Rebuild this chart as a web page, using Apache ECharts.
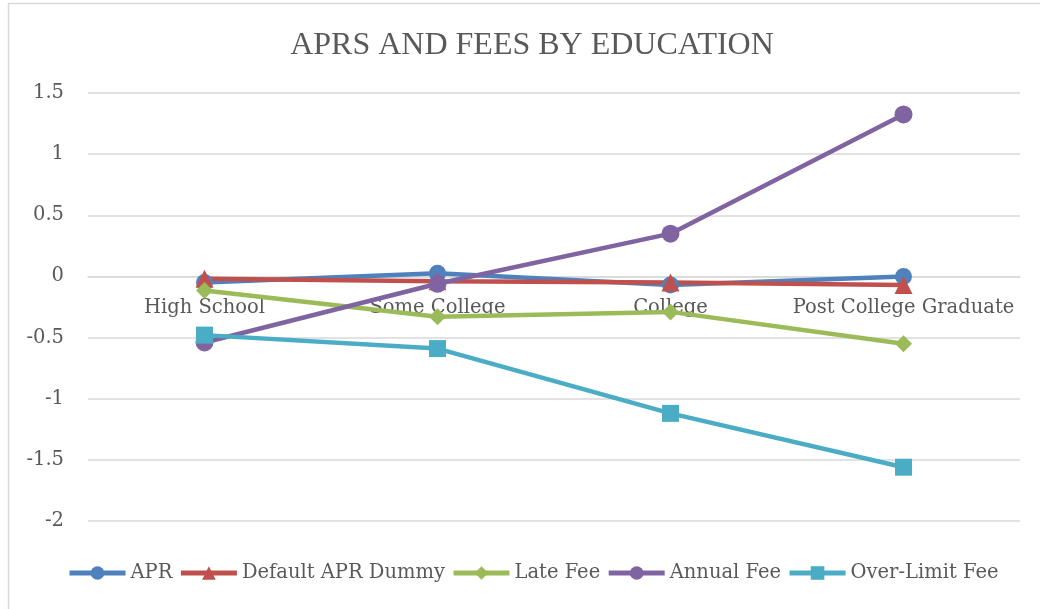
<!DOCTYPE html>
<html>
<head>
<meta charset="utf-8">
<script src="https://cdn.jsdelivr.net/npm/echarts@6/dist/echarts.min.js"></script>
<style>
  html, body { margin: 0; padding: 0; background: #fff; }
  #main { width: 1040px; height: 609px; }
</style>
</head>
<body>
<div id="main"></div>
<script>
// data
var categories = ['High School', 'Some College', 'College', 'Post College Graduate'];
var apr = [-0.05, 0.025, -0.07, 0.0];
var defaultApr = [-0.02, -0.04, -0.05, -0.07];
var lateFee = [-0.115, -0.33, -0.29, -0.55];
var annualFee = [-0.54, -0.06, 0.35, 1.325];
var overLimitFee = [-0.48, -0.59, -1.12, -1.56];
var yTicks = { min: -2, max: 1.5, interval: 0.5 };

var titleFont = '"Liberation Serif", "DejaVu Serif", serif';
var labelFont = '"DejaVu Serif", "Liberation Serif", serif';
var textGray = '#595959';

var gridTop = 93, gridBottom = 88, chartH = 609;
// move the category axis up so it sits on y = 0
var plotH = chartH - gridTop - gridBottom;
var zeroOffset = -plotH * (0 - yTicks.min) / (yTicks.max - yTicks.min);

function line(name, data, color, symbol, size) {
    return {
        name: name,
        type: 'line',
        data: data,
        symbol: symbol,
        symbolSize: size,
        lineStyle: { width: 4.5, color: color },
        itemStyle: { color: color },
        emphasis: { disabled: true }
    };
}

var myChart = echarts.init(document.getElementById('main'));
myChart.setOption({
    animation: false,
    title: {
        text: 'APRS AND FEES BY EDUCATION',
        left: 527,
        top: 25,
        textAlign: 'center',
        textStyle: { fontFamily: titleFont, fontSize: 32, fontWeight: 'normal', color: textGray }
    },
    graphic: [{
        type: 'rect',
        shape: { x: 8.5, y: 3.5, width: 1040, height: 620 },
        style: { fill: null, stroke: '#d9d9d9', lineWidth: 1.5 },
        silent: true
    }],
    legend: {
        bottom: 21,
        left: 62,
        itemWidth: 56,
        itemHeight: 17,
        itemGap: 6,
        lineStyle: { width: 5 },
        textStyle: { fontFamily: labelFont, fontSize: 19.5, color: textGray },
        data: ['APR', 'Default APR Dummy', 'Late Fee', 'Annual Fee', 'Over-Limit Fee']
    },
    grid: { left: 88, right: 20, top: gridTop, bottom: gridBottom },
    xAxis: {
        type: 'category',
        data: categories,
        boundaryGap: true,
        offset: zeroOffset,
        axisLine: { onZero: false, lineStyle: { color: '#d9d9d9', width: 1.5 } },
        axisTick: { show: false },
        axisLabel: { fontFamily: labelFont, fontSize: 19.5, color: textGray, margin: 22, interval: 0 }
    },
    yAxis: {
        type: 'value',
        min: yTicks.min,
        max: yTicks.max,
        interval: yTicks.interval,
        axisLine: { show: false },
        axisTick: { show: false },
        axisLabel: { fontFamily: labelFont, fontSize: 19.5, color: textGray, margin: 24 },
        splitLine: { lineStyle: { color: '#d9d9d9', width: 1.5 } }
    },
    series: [
        line('APR', apr, '#4F81BD', 'circle', 17),
        line('Default APR Dummy', defaultApr, '#C0504D', 'triangle', 18),
        line('Late Fee', lateFee, '#9BBB59', 'diamond', 17),
        line('Annual Fee', annualFee, '#8064A2', 'circle', 18),
        line('Over-Limit Fee', overLimitFee, '#4BACC6', 'rect', 17)
    ]
});
</script>
</body>
</html>
